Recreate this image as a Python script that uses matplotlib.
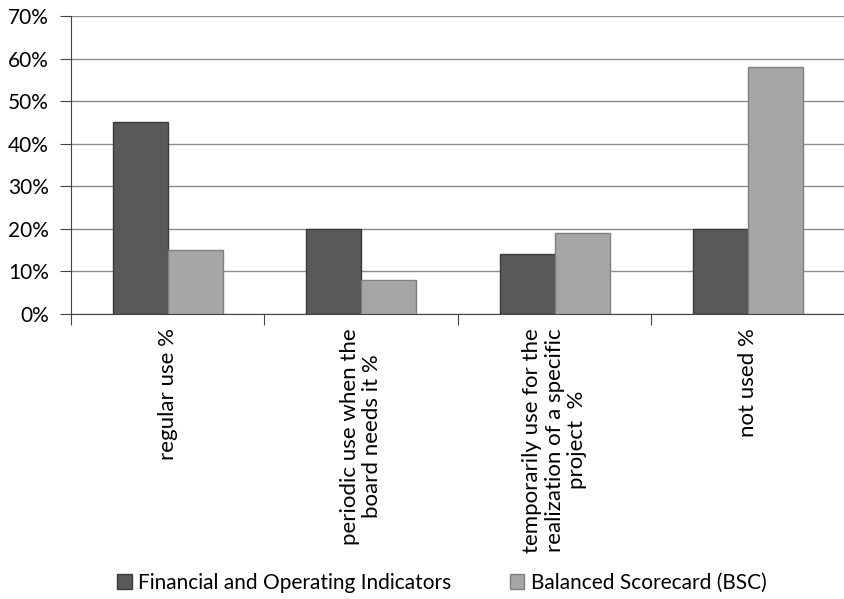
import matplotlib.pyplot as plt
import numpy as np

plt.rcParams['font.family'] = ['Lato', 'DejaVu Sans']

categories = [
    "regular use %",
    "periodic use when the\nboard needs it %",
    "temporarily use for the\nrealization of a specific\nproject  %",
    "not used %",
]
financial = [45, 20, 14, 20]
bsc = [15, 8, 19, 58]
series_names = ["Financial and Operating Indicators", "Balanced Scorecard (BSC)"]

fig = plt.figure(figsize=(8.45, 5.99), dpi=100)
ax = fig.add_axes([0.084, 0.4758, 0.916, 0.4975])

x = np.arange(len(categories))
w = 0.285
ax.bar(x - w / 2, financial, w, color="#595959", edgecolor="#3a3a3a", linewidth=1, label=series_names[0], zorder=3)
ax.bar(x + w / 2, bsc, w, color="#a6a6a6", edgecolor="#7f7f7f", linewidth=1, label=series_names[1], zorder=3)

ax.set_xlim(-0.5, len(categories) - 0.5)
ax.set_ylim(0, 70)
ax.set_yticks(np.arange(0, 71, 10))
ax.set_yticklabels([f"{v}%" for v in range(0, 71, 10)], fontsize=15)
ax.yaxis.grid(True, color="#8c8c8c", linewidth=1)
ax.set_axisbelow(True)

# category boundaries carry the ticks, labels sit at the centres
ax.set_xticks(np.arange(-0.5, len(categories), 1.0))
ax.set_xticklabels([])
ax.tick_params(axis="x", which="major", length=8, color="#444444")
ax.set_xticks(x, minor=True)
ax.set_xticklabels(categories, minor=True, rotation=90, fontsize=16,
                   ha="center", va="top", multialignment="center",
                   linespacing=1.15)
ax.tick_params(axis="x", which="minor", length=0, pad=10)
ax.tick_params(axis="y", length=8, color="#444444", pad=8)

for s in ["top", "right"]:
    ax.spines[s].set_visible(False)
ax.spines["left"].set_color("#444444")
ax.spines["bottom"].set_color("#444444")

fig.legend(loc="center", bbox_to_anchor=(0.523, 0.027), ncol=2, frameon=False,
           fontsize=15, handlelength=0.7, handleheight=0.7, handletextpad=0.3,
           columnspacing=2.8)

fig.savefig("out.png", dpi=100)
